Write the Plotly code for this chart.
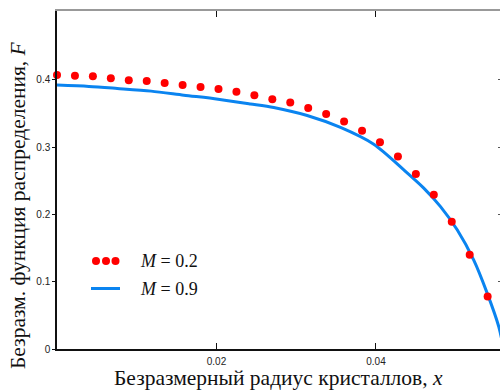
import plotly.graph_objects as go

# --- data ---
x_dots = [0.0, 0.00225, 0.0045, 0.00675, 0.009, 0.01125, 0.0135, 0.01575, 0.018, 0.02025,
          0.0225, 0.02475, 0.027, 0.02925, 0.0315, 0.03375, 0.036, 0.03825, 0.0405, 0.04275,
          0.045, 0.04725, 0.0495, 0.05175, 0.054]
F_dots = [0.407, 0.406, 0.405, 0.402, 0.399, 0.398, 0.395, 0.392, 0.389, 0.386,
          0.382, 0.377, 0.371, 0.366, 0.358, 0.349, 0.338, 0.324, 0.307, 0.286,
          0.260, 0.229, 0.189, 0.140, 0.078]

x_line = [0.0, 0.004, 0.00755, 0.0118, 0.0159, 0.0202, 0.02426, 0.02718, 0.03137, 0.03555,
          0.03972, 0.04349, 0.04599, 0.04809, 0.05018, 0.05226, 0.05394, 0.0554, 0.0560]
F_line = [0.392, 0.390, 0.387, 0.383, 0.377, 0.371, 0.364, 0.3586, 0.3467, 0.329,
          0.304, 0.266, 0.239, 0.2115, 0.177, 0.132, 0.083, 0.033, 0.0]

labels = ["<i>M</i> = 0.2", "<i>M</i> = 0.9"]
x_ticks = [0.02, 0.04]
x_ticktext = ["0.02", "0.04"]
y_ticks = [0, 0.1, 0.2, 0.3, 0.4]
y_ticktext = ["0", "0.1", "0.2", "0.3", "0.4"]

x_title = "Безразмерный радиус кристаллов, <i>x</i>"
y_title = "Безразм. функция распределения, <i>F</i>"

RED = "#FF0000"
BLUE = "#0A84F0"
XR = [0, 0.05555]
YR = [0, 0.502]

fig = go.Figure()
fig.add_trace(go.Scatter(x=x_line, y=F_line, mode="lines",
                         line=dict(color=BLUE, width=3, shape="spline", smoothing=0.8),
                         showlegend=False, cliponaxis=True))
fig.add_trace(go.Scatter(x=x_dots, y=F_dots, mode="markers",
                         marker=dict(color=RED, size=8, line=dict(width=0)),
                         showlegend=False, cliponaxis=False))
# invisible trace to activate mirror axes
fig.add_trace(go.Scatter(x=[None], y=[None], xaxis="x2", yaxis="y2", showlegend=False))

tickfont = dict(family="Liberation Sans, Arial", size=10, color="#222")
fig.update_layout(
    width=500, height=391,
    margin=dict(l=57, r=0, t=11, b=42),
    plot_bgcolor="white", paper_bgcolor="white",
    showlegend=False,
    xaxis=dict(range=XR, showgrid=False, zeroline=False, showline=True, linecolor="#111",
               linewidth=1.5, ticks="inside", ticklen=6, tickcolor="#111", tickwidth=1,
               tickvals=x_ticks, ticktext=x_ticktext, tickfont=tickfont, ticklabelstandoff=2),
    yaxis=dict(range=YR, showgrid=False, zeroline=False, showline=True, linecolor="#111",
               linewidth=1.5, ticks="outside", ticklen=3, tickcolor="#111", tickwidth=1,
               tickvals=y_ticks, ticktext=y_ticktext, tickfont=tickfont, ticklabelstandoff=0),
    xaxis2=dict(range=XR, overlaying="x", side="top", anchor="y2", showgrid=False, zeroline=False,
                showline=True, linecolor="#999", linewidth=2, ticks="inside", ticklen=6,
                tickcolor="#111", tickvals=x_ticks, showticklabels=False),
    yaxis2=dict(range=YR, overlaying="y", side="right", anchor="x2", showgrid=False, zeroline=False,
                showline=False, ticks="inside", ticklen=2, tickcolor="#555",
                tickvals=y_ticks, showticklabels=False),
)

W = 443.0
H = 338.0
def px(xp):
    return (xp - 57) / W
def py(yp):
    return (349 - yp) / H

serif = dict(family="Liberation Serif, Times New Roman", size=18, color="#111")
serif_big = dict(family="Liberation Serif, Times New Roman", size=21.5, color="#111")

# legend (custom, drawn in paper coordinates)
for cx in [96, 106, 115.5]:
    fig.add_shape(type="circle", xref="paper", yref="paper",
                  x0=px(cx - 4), x1=px(cx + 4), y0=py(261 + 4), y1=py(261 - 4),
                  fillcolor=RED, line=dict(width=0))
fig.add_shape(type="line", xref="paper", yref="paper", x0=px(91), x1=px(120),
              y0=py(288.5), y1=py(288.5), line=dict(color=BLUE, width=3))
fig.add_annotation(xref="paper", yref="paper", x=px(138), y=py(261), text=labels[0],
                   showarrow=False, xanchor="left", yanchor="middle", font=serif)
fig.add_annotation(xref="paper", yref="paper", x=px(138), y=py(289), text=labels[1],
                   showarrow=False, xanchor="left", yanchor="middle", font=serif)

# axis titles
fig.add_annotation(xref="paper", yref="paper", x=px(278), y=py(391), text=x_title,
                   showarrow=False, xanchor="center", yanchor="bottom", font=serif_big,
                   borderpad=0)
fig.add_annotation(xref="paper", yref="paper", x=px(18), y=py(205), text=y_title,
                   showarrow=False, xanchor="center", yanchor="middle", font=serif_big, textangle=-90)

fig.write_html("out.html")
